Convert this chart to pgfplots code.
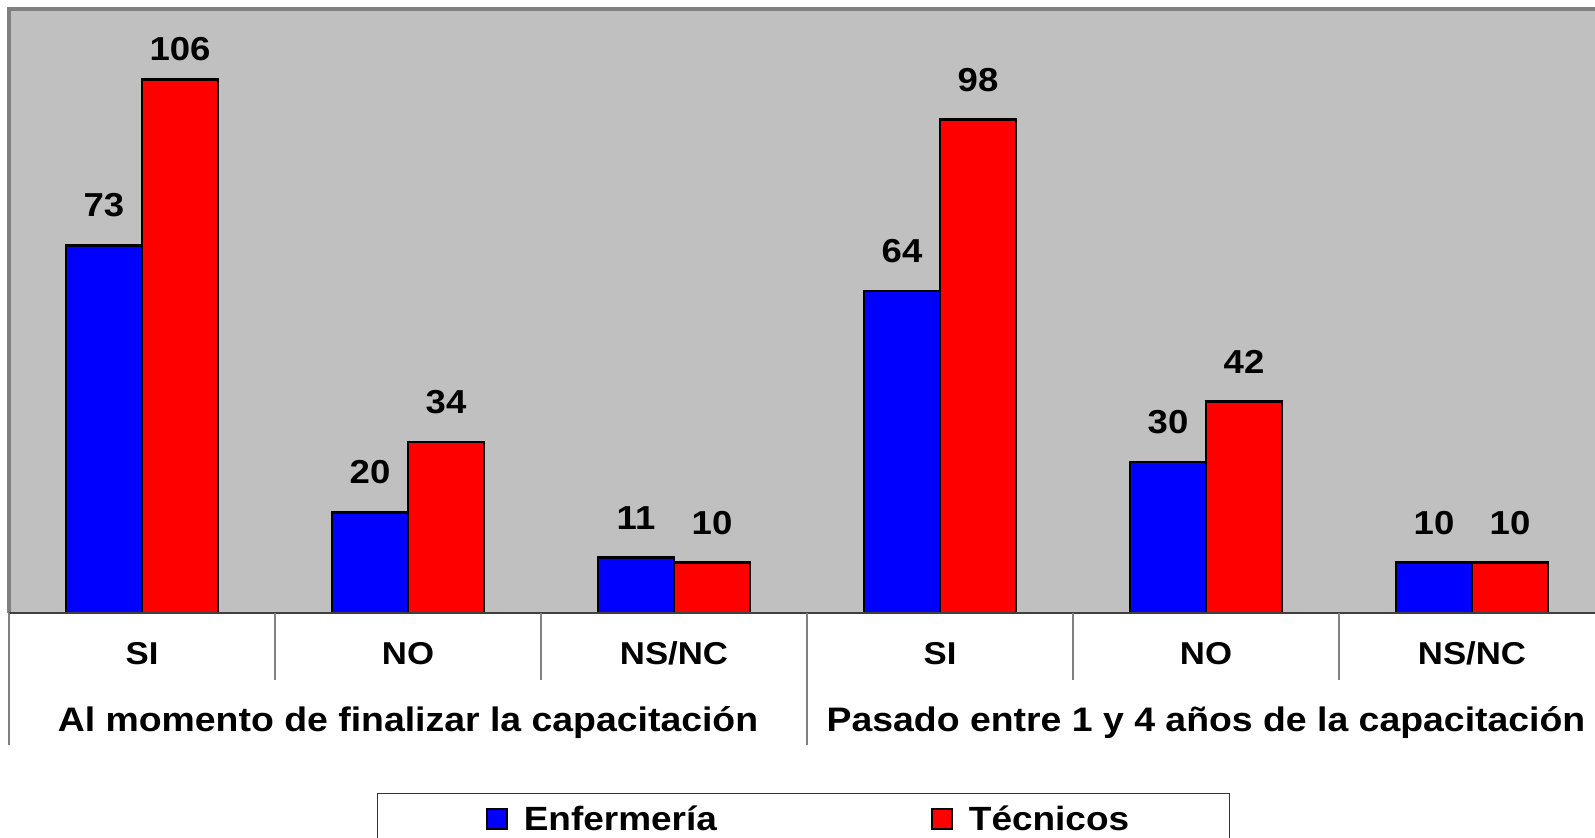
\documentclass[border=0pt]{standalone}
\usepackage{fontspec}
\setmainfont{Liberation Sans}[FakeStretch=1.1]
\usepackage{pgfplots}
\pgfplotsset{compat=1.18}
\definecolor{plotbg}{RGB}{192,192,192}
\definecolor{framegray}{RGB}{128,128,128}
\definecolor{enfblue}{RGB}{0,0,255}
\definecolor{tecred}{RGB}{255,0,0}

\begin{document}
\begin{tikzpicture}
\path[use as bounding box] (0,0) rectangle (797.5pt,419pt);
\begin{axis}[
  at={(4.5pt,112.5pt)}, anchor=south west,
  scale only axis, width=793pt, height=302pt,
  xmin=-0.5, xmax=5.4624, ymin=0, ymax=120,
  axis line style={draw=none},
  axis background/.style={fill=plotbg},
  ticks=none,
  ybar=0pt, bar width=38pt,
  /pgf/number format/assume math mode=true,
  nodes near coords,
  every node near coord/.append style={font=\bfseries\fontsize{16.6}{18}\selectfont,
    anchor=south, inner sep=0pt, yshift=13.5pt},
  clip=false,
  legend columns=2,
  legend style={at={(rel axis cs:0.5,0)}, anchor=north, yshift=-90pt, xshift=0.75pt,
    draw=black!80, line width=0.6pt, inner xsep=42pt, inner ysep=0.5pt,
    font=\bfseries\fontsize{16.8}{18}\selectfont,
    nodes={inner xsep=8pt, inner ysep=0pt, text height=18pt, text depth=6pt},
    /tikz/every even column/.append style={column sep=87pt}},
  every axis plot post/.append style={
    legend image code/.code={\path[draw=none, fill=none] (-12.5pt,0pt) -- (0pt,0pt);
      \draw[##1, line width=1pt] (0pt,-5pt) rectangle (10pt,5pt);}},
]
\addplot[fill=enfblue, draw=black, line width=1.3pt]
  coordinates {(0,73) (1,20) (2,11) (3,64) (4,30) (5,10)};
\addplot[fill=tecred, draw=black, line width=1.3pt,
  coordinate style/.condition={y>100}{yshift=-5pt}]
  coordinates {(0,106) (1,34) (2,10) (3,98) (4,42) (5,10)};
\legend{Enfermería, Técnicos}
\end{axis}

% frame of the plot area
\draw[framegray, line width=2pt] (4.5pt,112.5pt) -- (4.5pt,414.5pt) -- (797.5pt,414.5pt);
\draw[black!75, line width=1pt] (4.5pt,112.5pt) -- (797.5pt,112.5pt);

% category separators
\foreach \x in {137.5,270.5,536.5,669.5}
  \draw[framegray, line width=0.8pt] (\x pt,112.5pt) -- (\x pt,79pt);
\foreach \x in {4.5,403.5}
  \draw[framegray, line width=0.8pt] (\x pt,112.5pt) -- (\x pt,46.5pt);

% category labels
\begin{scope}[every node/.style={anchor=base, inner sep=0pt,
    font=\bfseries\fontsize{15.8}{18}\selectfont}]
\node at (71pt,86.5pt) {SI};
\node at (204pt,86.5pt) {NO};
\node at (337pt,86.5pt) {NS/NC};
\node at (470pt,86.5pt) {SI};
\node at (603pt,86.5pt) {NO};
\node at (736pt,86.5pt) {NS/NC};
\end{scope}
\begin{scope}[every node/.style={anchor=base, inner sep=0pt,
    font=\bfseries\fontsize{17}{20}\selectfont}]
\node at (204pt,53pt) {Al momento de finalizar la capacitación};
\node at (603pt,53pt) {Pasado entre 1 y 4 años de la capacitación};
\end{scope}
\end{tikzpicture}
\end{document}
